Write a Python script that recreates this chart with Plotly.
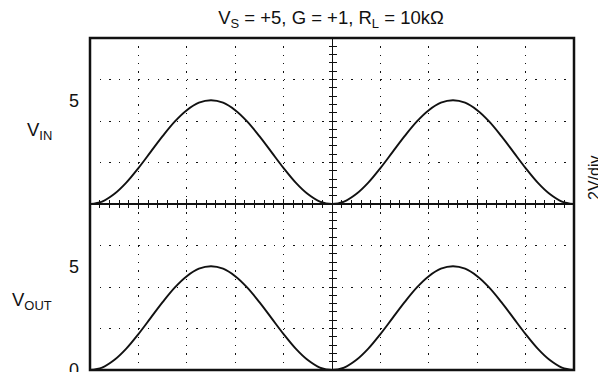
import plotly.graph_objects as go

# ---- data (x in horizontal divisions, y in volts) ----
time_div = [0.0, 0.25, 0.5, 0.75, 1.0, 1.25, 1.5, 1.75, 2.0, 2.25, 2.5, 2.75, 3.0, 3.25,
            3.5, 3.75, 4.0, 4.25, 4.5, 4.75, 5.0, 5.25, 5.5, 5.75, 6.0, 6.25, 6.5, 6.75,
            7.0, 7.25, 7.5, 7.75, 8.0, 8.25, 8.5, 8.75, 9.0, 9.25, 9.5, 9.75, 10.0]
v_in = [0.0, 0.12, 0.48, 1.03, 1.73, 2.5, 3.27, 3.97, 4.52, 4.88, 5.0, 4.88, 4.52, 3.97,
        3.27, 2.5, 1.73, 1.03, 0.48, 0.12, 0.0, 0.12, 0.48, 1.03, 1.73, 2.5, 3.27, 3.97,
        4.52, 4.88, 5.0, 4.88, 4.52, 3.97, 3.27, 2.5, 1.73, 1.03, 0.48, 0.12, 0.0]
v_out = [0.0, 0.12, 0.48, 1.03, 1.73, 2.5, 3.27, 3.97, 4.52, 4.88, 5.0, 4.88, 4.52, 3.97,
         3.27, 2.5, 1.73, 1.03, 0.48, 0.12, 0.0, 0.12, 0.48, 1.03, 1.73, 2.5, 3.27, 3.97,
         4.52, 4.88, 5.0, 4.88, 4.52, 3.97, 3.27, 2.5, 1.73, 1.03, 0.48, 0.12, 0.0]

in_tick_vals = [5]
in_tick_text = ["5"]
out_tick_vals = [0, 5]
out_tick_text = ["0", "5"]

title_text = "V<sub>S</sub> = +5, G = +1, R<sub>L</sub> = 10kΩ"
label_in = "V<sub>IN</sub>"
label_out = "V<sub>OUT</sub>"
label_scale = "2V/div"

FONT = "Liberation Sans, Arial, sans-serif"
INK = "#111111"

fig = go.Figure()
fig.add_trace(go.Scatter(x=time_div, y=v_in, xaxis="x2", yaxis="y2", mode="lines",
                         line=dict(color=INK, width=1.9, shape="spline"), showlegend=False))
fig.add_trace(go.Scatter(x=time_div, y=v_out, xaxis="x", yaxis="y", mode="lines",
                         line=dict(color=INK, width=1.9, shape="spline"), showlegend=False))
# empty traces so the centre-graticule axes get drawn
for xa, ya in [("x", "y3"), ("x", "y4"), ("x2", "y5"), ("x2", "y6")]:
    fig.add_trace(go.Scatter(x=[], y=[], xaxis=xa, yaxis=ya, mode="lines",
                             showlegend=False, hoverinfo="skip"))

xgrid = dict(showgrid=True, gridcolor=INK, gridwidth=1.3, griddash="1.3px,7px")
ygrid_minor = dict(tickmode="linear", tick0=0, dtick=2, showgrid=True, gridcolor=INK,
                   gridwidth=1.3, griddash="1.3px,8.38px", ticks="")

common_x = dict(range=[0, 10], tickmode="linear", tick0=0, dtick=1, showticklabels=False,
                zeroline=False, showline=True, linecolor=INK, linewidth=1,
                ticks="outside", ticklen=4, tickcolor=INK, tickwidth=1,
                minor=dict(tickmode="linear", tick0=0, dtick=0.2, ticks="outside",
                           ticklen=3, tickcolor=INK, tickwidth=1), **xgrid)

common_y = dict(range=[0, 8], zeroline=False, showgrid=False, ticks="",
                showline=False, tickfont=dict(family=FONT, size=18, color=INK),
                ticklabelstandoff=10, ticklabeloverflow="allow",
                minor=ygrid_minor, tickmode="array", automargin=False)

cross_y = dict(range=[0, 8], anchor="free", position=0.5, showgrid=False, zeroline=False,
               showticklabels=False, showline=True, linecolor=INK, linewidth=1,
               tickmode="linear", tick0=0, dtick=0.4, ticklen=3.5, tickcolor=INK, tickwidth=1,
               automargin=False)

fig.update_layout(
    width=598, height=372,
    margin=dict(l=90, r=24, t=38, b=2, autoexpand=False),
    paper_bgcolor="white", plot_bgcolor="rgba(0,0,0,0)",
    font=dict(family=FONT, size=18, color=INK),
    xaxis=dict(domain=[0, 1], anchor="y", side="top", automargin=False, **common_x),
    xaxis2=dict(domain=[0, 1], anchor="y2", side="bottom", matches="x", automargin=False, **common_x),
    yaxis=dict(domain=[0, 0.5], anchor="x", tickvals=out_tick_vals, ticktext=out_tick_text, **common_y),
    yaxis2=dict(domain=[0.5, 1], anchor="x2", tickvals=in_tick_vals, ticktext=in_tick_text, **common_y),
    yaxis3=dict(overlaying="y", side="left", ticks="outside", **cross_y),
    yaxis4=dict(overlaying="y", side="left", ticks="inside", **cross_y),
    yaxis5=dict(overlaying="y2", side="left", ticks="outside", **cross_y),
    yaxis6=dict(overlaying="y2", side="left", ticks="inside", **cross_y),
    title=dict(text=title_text, x=331 / 598, xanchor="center", y=1 - 18 / 372, yanchor="middle",
               font=dict(family=FONT, size=18.5, color=INK)),
    shapes=[dict(type="rect", xref="paper", yref="paper", x0=0, x1=1, y0=0, y1=1,
                 line=dict(color=INK, width=2.5), layer="above")],
    annotations=[
        dict(text=label_in, xref="paper", yref="paper", x=(54 - 90) / 484, y=(370 - 131) / 332,
             xanchor="right", yanchor="middle", showarrow=False,
             font=dict(family=FONT, size=18.5, color=INK)),
        dict(text=label_out, xref="paper", yref="paper", x=(54 - 90) / 484, y=(370 - 301) / 332,
             xanchor="right", yanchor="middle", showarrow=False,
             font=dict(family=FONT, size=18.5, color=INK)),
        dict(text=label_scale, xref="paper", yref="paper", x=(594 - 90) / 484, y=(370 - 178) / 332,
             xanchor="center", yanchor="middle", textangle=-90, showarrow=False,
             font=dict(family=FONT, size=16, color=INK)),
    ],
)

fig.write_html("out.html", config={"displayModeBar": False},
               post_script="document.body.style.margin='0';")
